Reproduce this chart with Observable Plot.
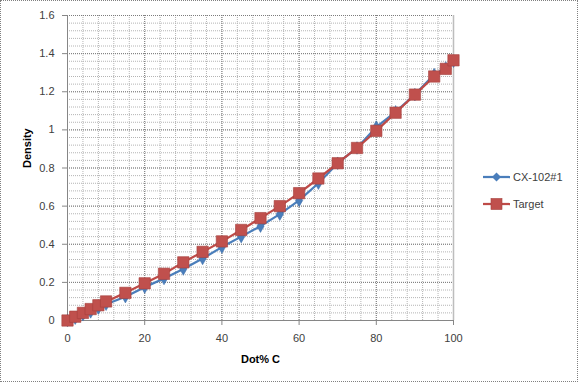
<!DOCTYPE html>
<html>
<head>
<meta charset="utf-8">
<script src="https://cdn.jsdelivr.net/npm/d3@7"></script>
<script src="https://cdn.jsdelivr.net/npm/@observablehq/plot@0.6"></script>
<style>
  html, body { margin: 0; padding: 0; background: #fff; }
  #wrap { position: relative; width: 578px; height: 382px; font-family: "Liberation Sans", Arial, sans-serif; }
  #frame { position: absolute; left: 0; top: 0; width: 578px; height: 382px; box-sizing: border-box; border: 1px dotted #808080; pointer-events: none; }
  .leg { position: absolute; left: 483px; height: 14px; display: flex; align-items: center; font-size: 11px; color: #404040; }
  .leg svg { margin-right: 3px; }
</style>
</head>
<body>
<div id="wrap"><div id="frame"></div></div>
<script>
// ---- data ----
const seriesNames = ["CX-102#1", "Target"];
const seriesColors = ["#4a7ebb", "#c0504d"];
const xCX = [0, 2, 4, 6, 8, 10, 15, 20, 25, 30, 35, 40, 45, 50, 55, 60, 65, 70, 75, 80, 85, 90, 95, 98, 100];
const yCX = [0, 0.012, 0.03, 0.045, 0.065, 0.085, 0.125, 0.175, 0.22, 0.27, 0.325, 0.385, 0.44, 0.495, 0.558, 0.63, 0.72, 0.825, 0.905, 1.015, 1.095, 1.185, 1.29, 1.325, 1.36];
const xTarget = [0, 2, 4, 6, 8, 10, 15, 20, 25, 30, 35, 40, 45, 50, 55, 60, 65, 70, 75, 80, 85, 90, 95, 98, 100];
const yTarget = [0, 0.02, 0.04, 0.06, 0.08, 0.1, 0.145, 0.195, 0.245, 0.305, 0.36, 0.415, 0.475, 0.537, 0.6, 0.668, 0.745, 0.825, 0.905, 0.995, 1.09, 1.185, 1.28, 1.32, 1.365];
const xTicks = [0, 20, 40, 60, 80, 100];
const yTicks = [0, 0.2, 0.4, 0.6, 0.8, 1, 1.2, 1.4, 1.6];
const xMinor = d3.range(0, 101, 4);
const yMinor = d3.range(0, 41).map(i => +(i * 0.04).toFixed(2));
const xTitle = "Dot% C";
const yTitle = "Density";

const cx = xCX.map((x, i) => ({x, y: yCX[i]}));
const tg = xTarget.map((x, i) => ({x, y: yTarget[i]}));

const chart = Plot.plot({
  width: 578,
  height: 382,
  marginLeft: 67,
  marginRight: 125,
  marginTop: 15,
  marginBottom: 62,
  style: {fontFamily: '"Liberation Sans", Arial, sans-serif', fontSize: "11px", color: "#404040", background: "transparent"},
  x: {domain: [0, 100]},
  y: {domain: [0, 1.6]},
  marks: [
    Plot.ruleX(xMinor, {stroke: "#b4b4b4", strokeDasharray: "1,1"}),
    Plot.ruleY(yMinor, {stroke: "#b4b4b4", strokeDasharray: "1,1"}),
    Plot.ruleX(xTicks, {stroke: "#7c7c7c", strokeDasharray: "1,1"}),
    Plot.ruleY(yTicks, {stroke: "#7c7c7c", strokeDasharray: "1,1"}),
    Plot.ruleX([100], {stroke: "#bdbdbd", strokeWidth: 1.5}),
    Plot.ruleX([0], {stroke: "#868686"}),
    Plot.ruleY([0], {stroke: "#868686"}),
    Plot.axisX({ticks: xTicks, tickSize: 5, tickPadding: 9, stroke: "#868686", fill: "#404040", label: null}),
    Plot.axisY({ticks: yTicks, tickSize: 5, tickPadding: 8, stroke: "#868686", fill: "#404040", label: null,
      tickFormat: d => String(+d.toFixed(1))}),
    Plot.line(cx, {x: "x", y: "y", stroke: seriesColors[0], strokeWidth: 2.25}),
    Plot.dot(cx, {x: "x", y: "y", symbol: "diamond", r: 3.8, fill: seriesColors[0], stroke: "#3d6ca8", strokeWidth: 0.5}),
    Plot.line(tg, {x: "x", y: "y", stroke: "#be4b48", strokeWidth: 2.25}),
    Plot.dot(tg, {x: "x", y: "y", symbol: "square", r: 6.4, fill: seriesColors[1], stroke: "#a5403d", strokeWidth: 0.6}),
    Plot.text([xTitle], {frameAnchor: "bottom", lineAnchor: "bottom", dy: 42, fontWeight: "bold", fill: "#000", fontSize: 11}),
    Plot.text([yTitle], {frameAnchor: "left", dx: -40, rotate: -90, fontWeight: "bold", fill: "#000", fontSize: 11})
  ]
});
const wrap = document.getElementById("wrap");
wrap.insertBefore(chart, wrap.firstChild);

// legend
const legTops = [170, 197];
seriesNames.forEach((name, i) => {
  const d = document.createElement("div");
  d.className = "leg";
  d.style.top = legTops[i] + "px";
  const sym = i === 0
    ? `<polygon points="13.5,2.5 18,7 13.5,11.5 9,7" fill="${seriesColors[0]}"/>`
    : `<rect x="8" y="1.5" width="11" height="11" fill="${seriesColors[1]}" stroke="#a5403d" stroke-width="0.6"/>`;
  d.innerHTML = `<svg width="27" height="14"><line x1="0" x2="27" y1="7" y2="7" stroke="${i === 0 ? seriesColors[0] : '#be4b48'}" stroke-width="2.25"/>${sym}</svg><span>${name}</span>`;
  wrap.appendChild(d);
});
</script>
</body>
</html>
